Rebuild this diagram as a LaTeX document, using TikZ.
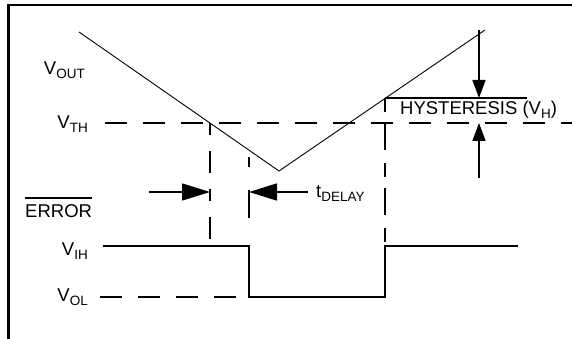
\documentclass[tikz,border=0pt]{standalone}
\usepackage{fontspec}
\setmainfont{Liberation Sans}
\usetikzlibrary{arrows.meta}
\begin{document}
\begin{tikzpicture}[x=1pt,y=-1pt,
		frame/.style={line width=2.2pt},
		ramp/.style={line width=0.9pt},
		signal/.style={line width=2pt},
		level/.style={line width=1.8pt,dash pattern=on 22pt off 16pt},
		bigarrow/.style={line width=1.5pt,-{Triangle[length=28pt,width=17pt]}},
		smallarrow/.style={line width=1.5pt,-{Triangle[length=18pt,width=13pt]}},
		lbl/.style={inner sep=0pt}]
		\newcommand{\myfontmain}[1]{%
			\fontsize{18.5}{21}\selectfont{#1}%
		}\newcommand{\myfontsub}[1]{%
			\raisebox{-4pt}{\fontsize{13.5}{15}\selectfont{#1}}%
		}\newcommand{\mybar}[1]{%
			\vbox{\hrule height 1.8pt\kern 5pt\hbox{#1}}%
		}%Outer size
		\useasboundingbox (0,0) rectangle (572,339);
		%Frame on the left and at the top
		\coordinate (frameBottom) at (8.5,339);
		\coordinate (frameCorner) at (8.5,5);
		\coordinate (frameRight) at (572,5);
		\draw [frame] (frameBottom) -- (frameCorner) -- (frameRight);
		%The output ramp going down and up again
		\coordinate (rampStart) at (79,32);
		\coordinate (rampLow) at (279,171);
		\coordinate (rampEnd) at (485,30);
		\draw [ramp] (rampStart) -- (rampLow) -- (rampEnd);
		%Threshold level
		\coordinate (thLeft) at (105,123);
		\coordinate (thRight) at (572,123);
		\draw [level] (thLeft) -- (thRight);
		%Vertical dashed lines
		\coordinate (cross0) at (210,123);
		\coordinate (cross0Low) at (210,243);
		\coordinate (cross1) at (249,157);
		\coordinate (cross1Low) at (249,246);
		\coordinate (cross2) at (385,98);
		\coordinate (cross2Low) at (385,246);
		\draw [level,dash pattern=on 12pt off 16pt on 22pt off 16pt] (cross0) -- (cross0Low);
		\draw [level,dash pattern=on 10pt off 23pt on 28pt off 30pt] (cross1) -- (cross1Low);
		\draw [level,dash pattern=on 14pt off 11pt on 27pt off 13pt] (cross2) -- (cross2Low);
		%The error output
		\coordinate (errStart) at (103,246);
		\coordinate (errFall) at (249,246);
		\coordinate (errLow) at (249,297);
		\coordinate (errRiseLow) at (385,297);
		\coordinate (errRise) at (385,246);
		\coordinate (errEnd) at (518,246);
		\draw [signal] (errStart) -- (errFall) -- (errLow) -- (errRiseLow) -- (errRise) -- (errEnd);
		\coordinate (olLeft) at (100,297);
		\draw [level] (olLeft) -- (errLow);
		%Hysteresis
		\coordinate (hystLeft) at (385,98);
		\coordinate (hystRight) at (527,98);
		\draw [line width=1.5pt] (hystLeft) -- (hystRight);
		\coordinate (hystTop) at (479,30);
		\coordinate (hystUpper) at (479,98);
		\coordinate (hystLower) at (479,123);
		\coordinate (hystBottom) at (479,178);
		\draw [smallarrow] (hystTop) -- (hystUpper);
		\draw [smallarrow] (hystBottom) -- (hystLower);
		%Delay arrows
		\coordinate (delayLeft) at (149,192);
		\coordinate (delayTip0) at (210,192);
		\coordinate (delayTip1) at (249,192);
		\coordinate (delayRight) at (308,192);
		\draw [bigarrow] (delayLeft) -- (delayTip0);
		\draw [bigarrow] (delayRight) -- (delayTip1);
		%Labels
		\node [lbl,anchor=base east] (vout) at (85,75) {\myfontmain{V}\myfontsub{OUT}};
		\node [lbl,anchor=base east] (vth) at (88,129) {\myfontmain{V}\myfontsub{TH}};
		\node [lbl,anchor=base west] (error) at (25,217) {\mybar{\myfontmain{ERROR}}};
		\node [lbl,anchor=base east] (vih) at (88,255) {\myfontmain{V}\myfontsub{IH}};
		\node [lbl,anchor=base east] (vol) at (88,301) {\myfontmain{V}\myfontsub{OL}};
		\node [lbl,anchor=base west] (tdelay) at (316,197) {\myfontmain{t}\myfontsub{DELAY}};
		\node [lbl,anchor=base west] (hyst) at (400,115) {\myfontmain{HYSTERESIS (V}\myfontsub{H}\myfontmain{)}};
		\end{tikzpicture}
\end{document}
